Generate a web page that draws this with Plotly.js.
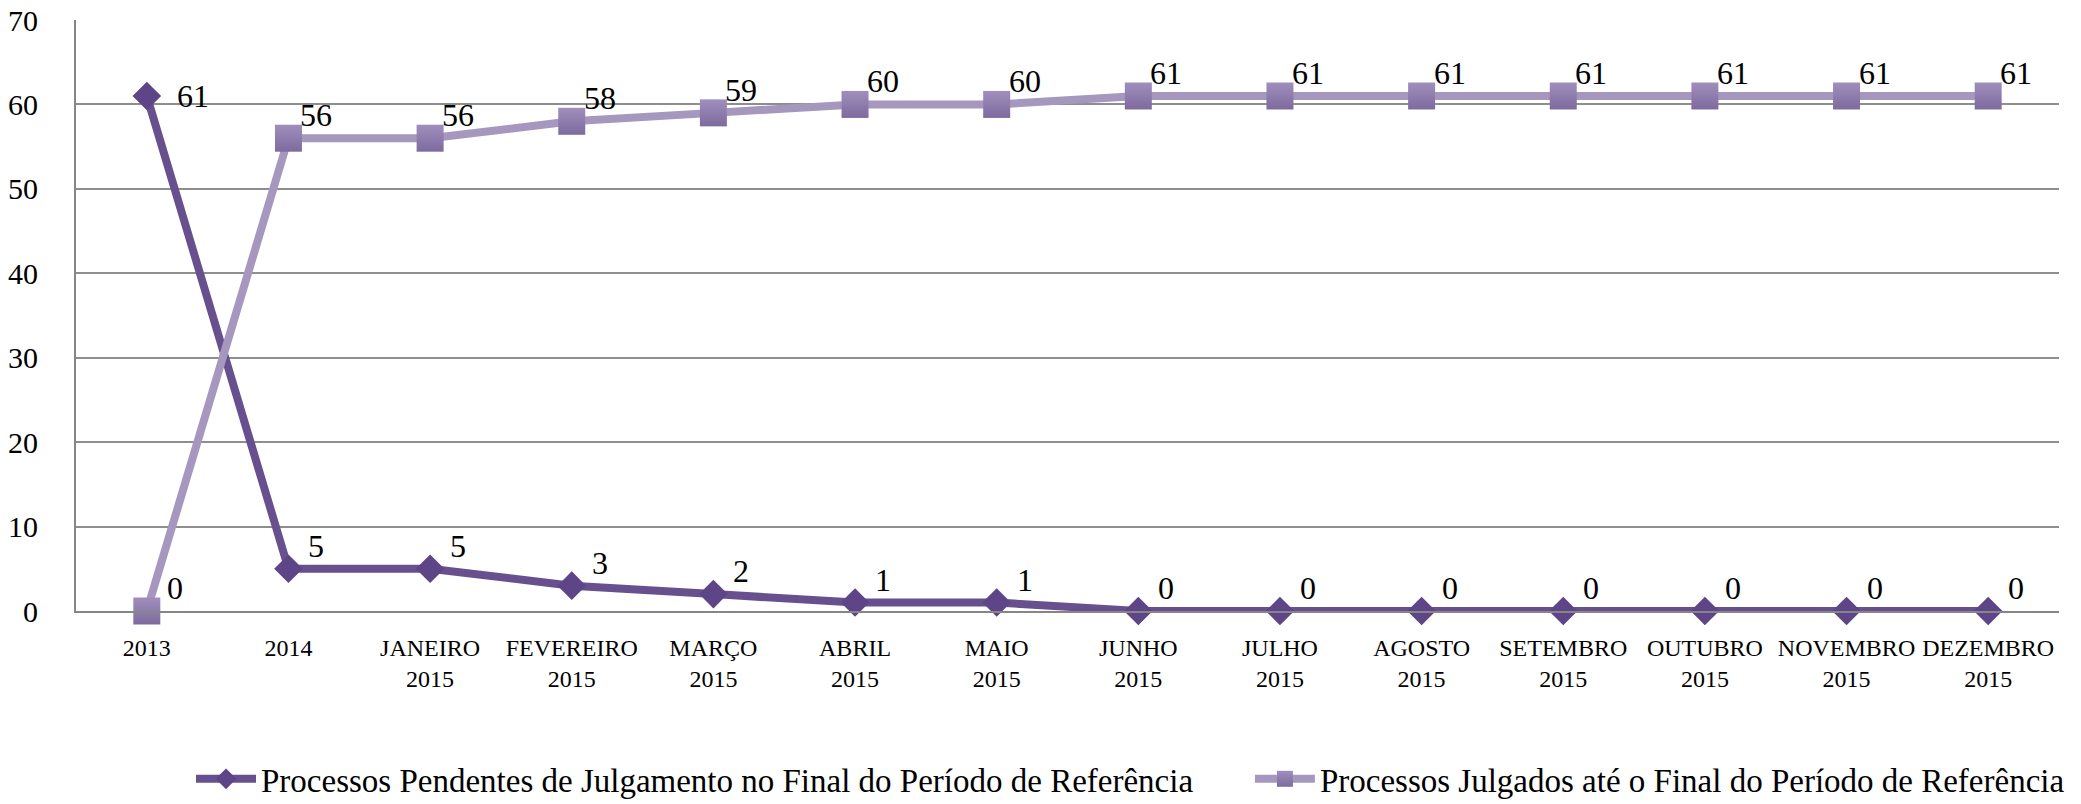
<!DOCTYPE html>
<html>
<head>
<meta charset="utf-8">
<script src="https://cdn.plot.ly/plotly-3.0.1.min.js"></script>
<style>html,body{margin:0;padding:0;background:#fff;}#chart{width:2081px;height:804px;}</style>
</head>
<body>
<div id="chart"></div>
<script>
const categories = ["2013", "2014", "JANEIRO<br>2015", "FEVEREIRO<br>2015", "MARÇO<br>2015", "ABRIL<br>2015", "MAIO<br>2015", "JUNHO<br>2015", "JULHO<br>2015", "AGOSTO<br>2015", "SETEMBRO<br>2015", "OUTUBRO<br>2015", "NOVEMBRO<br>2015", "DEZEMBRO<br>2015"];
const pendentes = [61, 5, 5, 3, 2, 1, 1, 0, 0, 0, 0, 0, 0, 0];
const julgados = [0, 56, 56, 58, 59, 60, 60, 61, 61, 61, 61, 61, 61, 61];
const seriesNames = ["Processos Pendentes de Julgamento no Final do Período de Referência", "Processos Julgados até o Final do Período de Referência"];
const yTicks = [0, 10, 20, 30, 40, 50, 60, 70];

const serif = "'Liberation Serif', 'Times New Roman', serif";
const xIdx = categories.map((c, i) => i);

const traces = [
  {
    type: 'scatter', mode: 'lines+markers', name: seriesNames[0], legend: 'legend',
    x: xIdx, y: pendentes,
    line: {color: '#67508D', width: 8},
    marker: {symbol: 'diamond', size: 22, color: '#5E4587', line: {width: 0}},
    cliponaxis: false
  },
  {
    type: 'scatter', mode: 'lines+markers', name: seriesNames[1], legend: 'legend2',
    x: xIdx, y: julgados,
    line: {color: '#A697BF', width: 8},
    marker: {symbol: 'square', size: 27, color: '#A08FBD', line: {width: 0},
             gradient: {type: 'vertical', color: '#7E6A9E'}},
    cliponaxis: false
  }
];

const labelFont = {family: serif, size: 32, color: '#000'};
const annotations = [];
[pendentes, julgados].forEach((series, s) => {
  series.forEach((v, i) => {
    const beside = (s === 0 && i === 0);
    annotations.push({
      x: i, y: v, xref: 'x', yref: 'y', text: String(v), showarrow: false,
      font: labelFont, xanchor: 'center', yanchor: 'middle',
      xshift: beside ? 46 : 28, yshift: beside ? 0 : 23
    });
  });
});

const legendFont = {family: serif, size: 33, color: '#000'};
const layout = {
  width: 2081, height: 804,
  margin: {l: 76, r: 22, t: 20, b: 193, autoexpand: false},
  paper_bgcolor: '#fff', plot_bgcolor: '#fff',
  font: {family: serif, color: '#000'},
  showlegend: true,
  legend: {orientation: 'h', x: 0.058, xanchor: 'left', y: -0.284, yanchor: 'middle',
           font: legendFont, itemwidth: 60, bgcolor: 'rgba(0,0,0,0)'},
  legend2: {orientation: 'h', x: 0.592, xanchor: 'left', y: -0.284, yanchor: 'middle',
            font: legendFont, itemwidth: 60, bgcolor: 'rgba(0,0,0,0)'},
  annotations: annotations,
  xaxis: {
    type: 'linear', range: [-0.5, 13.5],
    tickvals: xIdx, ticktext: categories, tickangle: 0,
    tickfont: {family: serif, size: 24, color: '#000'},
    showgrid: false, zeroline: false,
    showline: true, linecolor: '#868686', linewidth: 2,
    ticks: '', ticklabelstandoff: 14
  },
  yaxis: {
    range: [0, 70], tickvals: yTicks,
    tickfont: {family: serif, size: 30, color: '#000'},
    showgrid: true, gridcolor: '#8e8e8e', gridwidth: 2,
    zeroline: false, showline: true, linecolor: '#868686', linewidth: 2,
    ticks: '', ticklabelstandoff: 30
  }
};

Plotly.newPlot('chart', traces, layout, {displayModeBar: false, staticPlot: true});
</script>
</body>
</html>
